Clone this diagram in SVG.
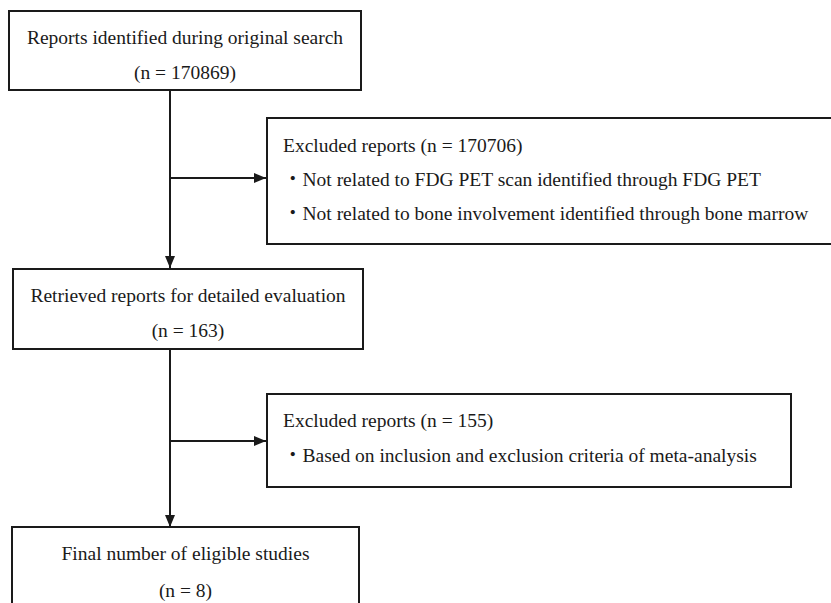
<svg xmlns="http://www.w3.org/2000/svg" width="831" height="603" viewBox="0 0 831 603">
<style>
.box{fill:#fff;stroke:#1a1a1a;stroke-width:2}
.t{font-family:"Liberation Serif","Noto Sans CJK JP",serif;font-size:19.5px;fill:#1a1a1a}
.c{text-anchor:middle}
.ln{stroke:#1a1a1a;stroke-width:2;fill:none}
</style>
<defs>
<marker id="ah" viewBox="0 0 12 10" refX="12" refY="5" markerWidth="12" markerHeight="10" markerUnits="userSpaceOnUse" orient="auto">
<path d="M0,0 L12,5 L0,10 Z" fill="#1a1a1a"/>
</marker>
</defs>
<rect width="831" height="603" fill="#fff"/>
<g id="connectors">
<line class="ln" x1="170" y1="90" x2="170" y2="268" marker-end="url(#ah)"/>
<line class="ln" x1="170" y1="178" x2="266" y2="178" marker-end="url(#ah)"/>
<line class="ln" x1="170" y1="349" x2="170" y2="527" marker-end="url(#ah)"/>
<line class="ln" x1="170" y1="441" x2="266" y2="441" marker-end="url(#ah)"/>
</g>
<g id="n1">
<rect class="box" x="9" y="11" width="352" height="79"/>
<text class="t c" x="185" y="44">Reports identified during original search</text>
<text class="t c" x="185" y="79">(n = 170869)</text>
</g>
<g id="n2">
<rect class="box" x="267" y="118" width="570" height="126"/>
<text class="t" x="283" y="152">Excluded reports (n = 170706)</text>
<text class="t" x="283" y="186">・Not related to FDG PET scan identified through FDG PET</text>
<text class="t" x="283" y="220">・Not related to bone involvement identified through bone marrow</text>
</g>
<g id="n3">
<rect class="box" x="13" y="269" width="350" height="80"/>
<text class="t c" x="188" y="302">Retrieved reports for detailed evaluation</text>
<text class="t c" x="188" y="337">(n = 163)</text>
</g>
<g id="n4">
<rect class="box" x="267" y="394" width="524" height="93"/>
<text class="t" x="283" y="427">Excluded reports (n = 155)</text>
<text class="t" x="283" y="462">・Based on inclusion and exclusion criteria of meta-analysis</text>
</g>
<g id="n5">
<rect class="box" x="12" y="527" width="347" height="90"/>
<text class="t c" x="185.5" y="560">Final number of eligible studies</text>
<text class="t c" x="185.5" y="597">(n = 8)</text>
</g>
</svg>
